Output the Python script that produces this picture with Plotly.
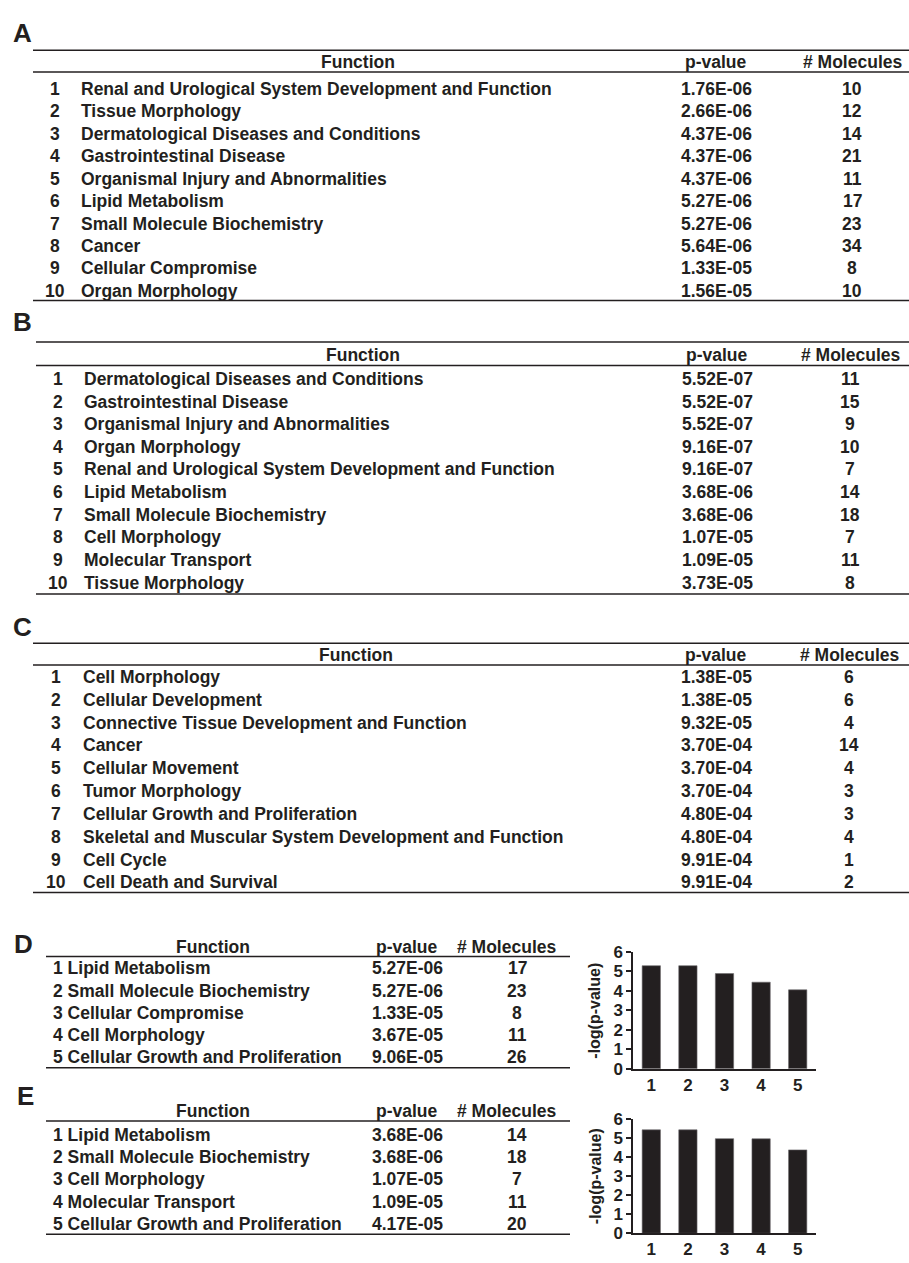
import math
import plotly.graph_objects as go

W, H = 909, 1263
INK = "#231f20"
FONT = "Liberation Sans, Arial, Helvetica, sans-serif"

# ---------------- data ----------------
a_functions = [
    "Renal and Urological System Development and Function",
    "Tissue Morphology",
    "Dermatological Diseases and Conditions",
    "Gastrointestinal Disease",
    "Organismal Injury and Abnormalities",
    "Lipid Metabolism",
    "Small Molecule Biochemistry",
    "Cancer",
    "Cellular Compromise",
    "Organ Morphology",
]
a_pvalues = ["1.76E-06", "2.66E-06", "4.37E-06", "4.37E-06", "4.37E-06",
             "5.27E-06", "5.27E-06", "5.64E-06", "1.33E-05", "1.56E-05"]
a_molecules = [10, 12, 14, 21, 11, 17, 23, 34, 8, 10]

b_functions = [
    "Dermatological Diseases and Conditions",
    "Gastrointestinal Disease",
    "Organismal Injury and Abnormalities",
    "Organ Morphology",
    "Renal and Urological System Development and Function",
    "Lipid Metabolism",
    "Small Molecule Biochemistry",
    "Cell Morphology",
    "Molecular Transport",
    "Tissue Morphology",
]
b_pvalues = ["5.52E-07", "5.52E-07", "5.52E-07", "9.16E-07", "9.16E-07",
             "3.68E-06", "3.68E-06", "1.07E-05", "1.09E-05", "3.73E-05"]
b_molecules = [11, 15, 9, 10, 7, 14, 18, 7, 11, 8]

c_functions = [
    "Cell Morphology",
    "Cellular Development",
    "Connective Tissue Development and Function",
    "Cancer",
    "Cellular Movement",
    "Tumor Morphology",
    "Cellular Growth and Proliferation",
    "Skeletal and Muscular System Development and Function",
    "Cell Cycle",
    "Cell Death and Survival",
]
c_pvalues = ["1.38E-05", "1.38E-05", "9.32E-05", "3.70E-04", "3.70E-04",
             "3.70E-04", "4.80E-04", "4.80E-04", "9.91E-04", "9.91E-04"]
c_molecules = [6, 6, 4, 14, 4, 3, 3, 4, 1, 2]

d_functions = [
    "Lipid Metabolism",
    "Small Molecule Biochemistry",
    "Cellular Compromise",
    "Cell Morphology",
    "Cellular Growth and Proliferation",
]
d_pvalues = ["5.27E-06", "5.27E-06", "1.33E-05", "3.67E-05", "9.06E-05"]
d_molecules = [17, 23, 8, 11, 26]

e_functions = [
    "Lipid Metabolism",
    "Small Molecule Biochemistry",
    "Cell Morphology",
    "Molecular Transport",
    "Cellular Growth and Proliferation",
]
e_pvalues = ["3.68E-06", "3.68E-06", "1.07E-05", "1.09E-05", "4.17E-05"]
e_molecules = [14, 18, 7, 11, 20]

bar_categories = [1, 2, 3, 4, 5]
bar_ticks = [0, 1, 2, 3, 4, 5, 6]


# ---------------- helpers ----------------
def px(x):
    return x / W


def py(y):
    return 1 - y / H


annotations = []
shapes = []


def text(x, y, s, anchor="left", size=17.5, weight="bold"):
    annotations.append(dict(
        x=px(x), y=py(y), xref="paper", yref="paper", text=s,
        showarrow=False, xanchor=anchor, yanchor="middle",
        font=dict(family=FONT, size=size, color=INK, weight=weight),
        borderpad=0,
    ))


def hline(x0, x1, y, width=1.5):
    shapes.append(dict(
        type="line", xref="paper", yref="paper",
        x0=px(x0), x1=px(x1), y0=py(y), y1=py(y),
        line=dict(color=INK, width=width),
    ))


def big_table(label, lab_xy, top, head_y, head_line, bottom, x0,
              cols, row0, step, funcs, pvals, mols):
    text(lab_xy[0], lab_xy[1], label, anchor="center", size=26)
    hline(x0, W, top)
    hline(x0, W, head_line)
    hline(x0, W, bottom)
    num_x, func_x, func_head_x, p_x, m_x = cols
    text(func_head_x, head_y, "Function", anchor="center")
    text(p_x, head_y, "p-value", anchor="center")
    text(m_x, head_y, "# Molecules", anchor="center")
    for i, (f, p, m) in enumerate(zip(funcs, pvals, mols)):
        y = row0 + i * step
        text(num_x, y, str(i + 1), anchor="center")
        text(func_x, y, f)
        text(p_x, y, p, anchor="center")
        text(m_x, y, str(m), anchor="center")


def small_table(label, lab_xy, head_y, head_line, bottom, x0, x1,
                cols, row0, step, funcs, pvals, mols):
    text(lab_xy[0], lab_xy[1], label, anchor="center", size=26)
    hline(x0, x1, head_line)
    hline(x0, x1, bottom)
    row_x, func_head_x, p_x, m_head_x, m_x = cols
    text(func_head_x, head_y, "Function", anchor="center")
    text(p_x, head_y, "p-value", anchor="center")
    text(m_head_x, head_y, "# Molecules", anchor="center")
    for i, (f, p, m) in enumerate(zip(funcs, pvals, mols)):
        y = row0 + i * step
        text(row_x, y, f"{i + 1} {f}")
        text(p_x, y, p, anchor="center")
        text(m_x, y, str(m), anchor="center")


# ---------------- tables ----------------
big_table("A", (22, 24), 42, 54, 64, 296, 33,
          (55, 80, 358, 716, 852), 81, 22.8,
          a_functions, a_pvalues, a_molecules)
big_table("B", (22, 318), 338, 351, 362, 594, 36,
          (58, 83, 363, 717, 850), 375.5, 23.0,
          b_functions, b_pvalues, b_molecules)
big_table("C", (22, 627), 644, 656, 666, 897, 33,
          (56, 82, 356, 716, 849), 678, 23.2,
          c_functions, c_pvalues, c_molecules)
small_table("D", (23, 949), 952, 962, 1075, 46, 570,
            (52, 213, 407, 506, 517), 974, 22.6,
            d_functions, d_pvalues, d_molecules)
small_table("E", (25, 1104), 1119, 1129, 1244, 46, 570,
            (52, 213, 407, 506, 517), 1143, 22.6,
            e_functions, e_pvalues, e_molecules)

# ---------------- bar charts ----------------
d_score = [-math.log10(float(p)) for p in d_pvalues]
e_score = [-math.log10(float(p)) for p in e_pvalues]

fig = go.Figure()
fig.add_trace(go.Bar(x=bar_categories, y=d_score, width=0.5,
                     marker=dict(color=INK, line=dict(color="#6d6a6b", width=0.6)),
                     xaxis="x", yaxis="y", showlegend=False))
fig.add_trace(go.Bar(x=bar_categories, y=e_score, width=0.5,
                     marker=dict(color=INK, line=dict(color="#6d6a6b", width=0.6)),
                     xaxis="x2", yaxis="y2", showlegend=False))

x_dom = [px(633), px(816)]
tick_font = dict(family=FONT, size=17, color=INK, weight="bold")


def xax(anchor):
    return dict(domain=x_dom, range=[0.5, 5.5], anchor=anchor,
                tickvals=bar_categories, ticktext=[str(c) for c in bar_categories],
                showline=True, linecolor=INK, linewidth=1.5, ticks="",
                showgrid=False, zeroline=False, tickfont=tick_font, fixedrange=True)


def yax(anchor, y_zero, y_six):
    return dict(domain=[py(y_zero), py(y_six)], range=[0, 6], anchor=anchor,
                tickvals=bar_ticks, showline=True, linecolor=INK, linewidth=1.5,
                ticks="outside", ticklen=5, tickwidth=1.5, tickcolor=INK,
                showgrid=False, zeroline=False, tickfont=tick_font, fixedrange=True)


for y_mid in (1017, 1185):
    annotations.append(dict(
        x=px(595), y=py(y_mid), xref="paper", yref="paper",
        text="-log(p-value)", textangle=-90, showarrow=False,
        xanchor="center", yanchor="middle",
        font=dict(family=FONT, size=16, color=INK, weight="bold"),
    ))

fig.update_layout(
    width=W, height=H,
    margin=dict(l=0, r=0, t=0, b=0),
    paper_bgcolor="white", plot_bgcolor="white",
    xaxis=xax("y"), yaxis=yax("x", 1076, 957),
    xaxis2=xax("y2"), yaxis2=yax("x2", 1243, 1127),
    annotations=annotations, shapes=shapes,
    bargap=0.5, showlegend=False,
)

fig.write_html("out.html", config={"displayModeBar": False})
